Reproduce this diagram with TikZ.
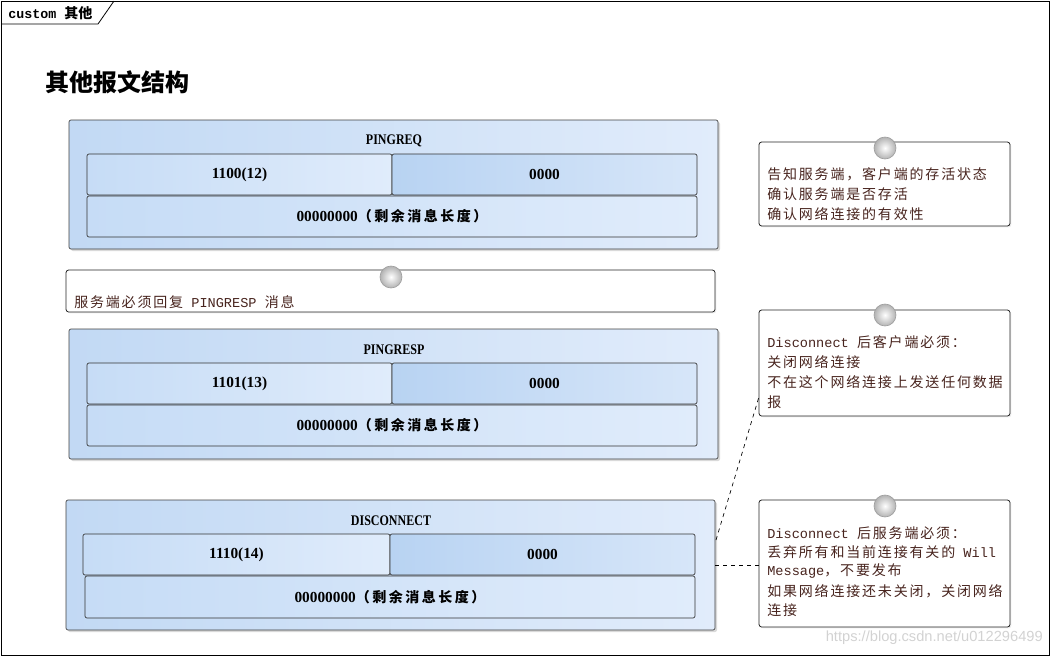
\documentclass[tikz,border=0pt]{standalone}
\usepackage{fontspec}
\usetikzlibrary{shadows,fit}
\setmainfont{Liberation Serif}
\newfontfamily\mono{Liberation Mono}
\newfontfamily\cond[FakeStretch=0.82]{Liberation Serif}
\newfontfamily\cjk[LetterSpace=13]{Noto Sans CJK SC}
\newfontfamily\cjkb[LetterSpace=18]{Noto Sans CJK SC}
\newfontfamily\cjkt{Noto Sans CJK SC}
\newfontfamily\wm{Liberation Sans}
\definecolor{pktL}{HTML}{C2D9F4}
\definecolor{pktR}{HTML}{E1ECFB}
\definecolor{cAL}{HTML}{C6DCF6}
\definecolor{cAR}{HTML}{E0ECFB}
\definecolor{cBL}{HTML}{B8D3F2}
\definecolor{cBR}{HTML}{D7E6F9}
\definecolor{notecol}{RGB}{72,36,30}
\tikzset{
  pkt/.style={draw=black!75, line width=0.5pt, rounded corners=1.5pt, inner sep=0pt,
    left color=pktL, right color=pktR,
    drop shadow={shadow xshift=1.5pt, shadow yshift=-1.5pt, opacity=0.3}},
  cellA/.style={draw=black!80, line width=0.5pt, rounded corners=1.5pt, inner sep=0pt,
    left color=cAL, right color=cAR},
  cellB/.style={draw=black!80, line width=0.5pt, rounded corners=1.5pt, inner sep=0pt,
    left color=cBL, right color=cBR},
  note/.style={draw=black!85, fill=white, line width=0.6pt, rounded corners=2pt, inner sep=0pt,
    drop shadow={shadow xshift=1pt, shadow yshift=-1pt, opacity=0.15}},
  ball/.style={circle, minimum size=16.5pt, inner sep=0pt, draw=gray!75, line width=0.5pt,
    inner color=white, outer color=gray!60},
  ntxt/.style={anchor=west, inner sep=0pt, text=notecol, font=\mono\fontsize{10.2}{12}\selectfont},
  ptitle/.style={inner sep=0pt, font=\cond\bfseries\fontsize{11}{13}\selectfont},
  ctxt/.style={inner sep=0pt, font=\bfseries\fontsize{11.5}{13}\selectfont},
  conn/.style={dashed, draw=black, line width=0.5pt}
}
\newcommand{\cj}[1]{{\cjk\fontsize{10.5}{12}\selectfont #1}}
\newcommand{\cjB}[1]{{\cjkb\bfseries\fontsize{10.5}{12}\selectfont #1}}
\begin{document}
\begin{tikzpicture}[x=0.75pt,y=-0.75pt]
\useasboundingbox (0,0) rectangle (1051,657);
% frame
\draw[line width=0.6pt] (1,1) rectangle (1049,655);
\draw[line width=0.6pt] (1,24) -- (98,24) -- (114,1);
\node[anchor=west, inner sep=0pt, font=\mono\bfseries\fontsize{10}{11}\selectfont] (tab) at (8,13) {custom {\cjkt\fontsize{10.5}{11}\selectfont 其他}};
\node[anchor=west, inner sep=0pt, font=\cjkt\bfseries\fontsize{18}{20}\selectfont] (title) at (45,82) {其他报文结构};

% packet 1
\node[pkt, fit={(69,120)(718,249)}] (p1) {};
\node[ptitle] (p1t) at (394,141) {PINGREQ};
\node[cellA, fit={(87,154)(392,195)}] (p1a) {};
\node[cellB, fit={(392,154)(697,195)}] (p1b) {};
\node[cellA, fit={(87,196)(697,237)}] (p1c) {};
\node[ctxt] at (p1a) {1100(12)};
\node[ctxt] at (p1b) {0000};
\node[ctxt] at (p1c) {00000000\cjB{（剩余消息长度）}};

% packet 2
\node[pkt, fit={(69,329)(718,459)}] (p2) {};
\node[ptitle] (p2t) at (394,350) {PINGRESP};
\node[cellA, fit={(87,363)(392,404)}] (p2a) {};
\node[cellB, fit={(392,363)(697,404)}] (p2b) {};
\node[cellA, fit={(87,405)(697,446)}] (p2c) {};
\node[ctxt] at (p2a) {1101(13)};
\node[ctxt] at (p2b) {0000};
\node[ctxt] at (p2c) {00000000\cjB{（剩余消息长度）}};

% packet 3
\node[pkt, fit={(66,500)(715,630)}] (p3) {};
\node[ptitle] (p3t) at (391,521) {DISCONNECT};
\node[cellA, fit={(83,534)(390,575)}] (p3a) {};
\node[cellB, fit={(390,534)(695,575)}] (p3b) {};
\node[cellA, fit={(85,576)(695,618)}] (p3c) {};
\node[ctxt] at (p3a) {1110(14)};
\node[ctxt] at (p3b) {0000};
\node[ctxt] at (p3c) {00000000\cjB{（剩余消息长度）}};

% notes
\node[note, fit={(759,142)(1010,226)}] (n1) {};
\node[ball] (b1) at (885,148) {};
\node[ntxt] (n1l1) at (767,174) {\cj{告知服务端，客户端的存活状态}};
\node[ntxt] (n1l2) at (767,194) {\cj{确认服务端是否存活}};
\node[ntxt] (n1l3) at (767,214) {\cj{确认网络连接的有效性}};

\node[note, fit={(66,270)(715,312)}] (n2) {};
\node[ball] (b2) at (391,277) {};
\node[ntxt] (n2l1) at (74,302) {\cj{服务端必须回复} PINGRESP \cj{消息}};

\node[note, fit={(759,310)(1010,416)}] (n3) {};
\node[ball] (b3) at (885,315) {};
\node[ntxt] (n3l1) at (767,342) {Disconnect \cj{后客户端必须：}};
\node[ntxt] (n3l2) at (767,362) {\cj{关闭网络连接}};
\node[ntxt] (n3l3) at (767,382) {\cj{不在这个网络连接上发送任何数据}};
\node[ntxt] (n3l4) at (767,402) {\cj{报}};

\node[note, fit={(759,500)(1010,627)}] (n4) {};
\node[ball] (b4) at (885,506) {};
\node[ntxt] (n4l1) at (767,533) {Disconnect \cj{后服务端必须：}};
\node[ntxt] (n4l2) at (767,552) {\cj{丢弃所有和当前连接有关的} Will};
\node[ntxt] (n4l3) at (767,571) {Message\cj{，不要发布}};
\node[ntxt] (n4l4) at (767,591) {\cj{如果网络连接还未关闭，关闭网络}};
\node[ntxt] (n4l5) at (767,610) {\cj{连接}};

% connectors
\coordinate (d1) at (716,540);
\coordinate (d2) at (759.5,395);
\draw[conn] (d1) -- (d2);
\draw[conn] (p3.east) -- (n4.west |- p3.east);

% watermark
\node[anchor=east, inner sep=0pt, text=gray!35, font=\wm\fontsize{11}{12}\selectfont] (wm) at (1043,638) {https://blog.csdn.net/u012296499};
\end{tikzpicture}
\end{document}
